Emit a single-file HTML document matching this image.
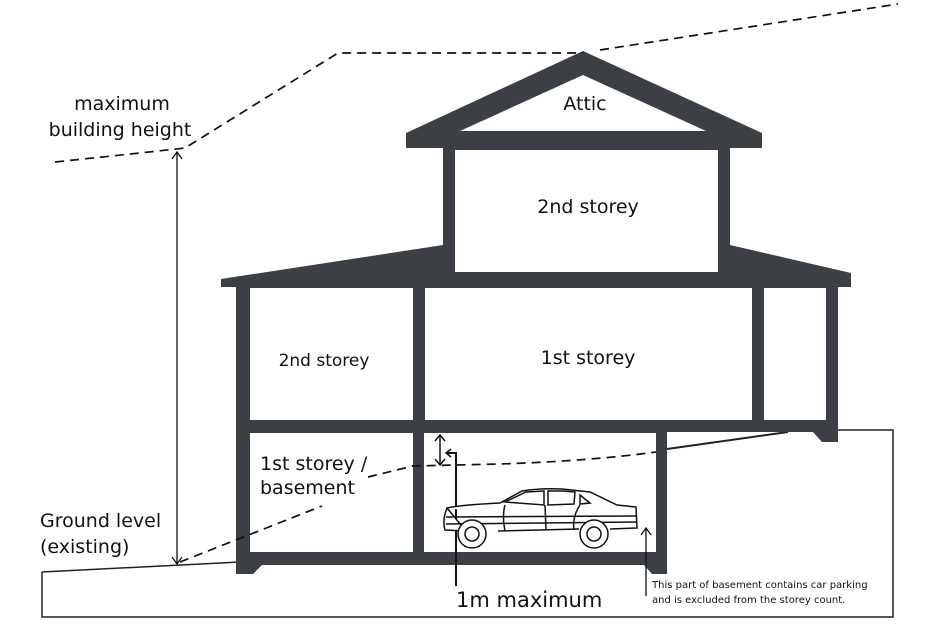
<!DOCTYPE html>
<html><head><meta charset="utf-8"><style>
html,body{margin:0;padding:0;background:#fff;width:951px;height:628px;overflow:hidden}
svg{display:block}
text{font-family:"DejaVu Sans","Liberation Sans",sans-serif;fill:#111}
</style></head><body>
<svg width="951" height="628" viewBox="0 0 951 628" xmlns="http://www.w3.org/2000/svg">
<defs>
<marker id="ah" markerWidth="10" markerHeight="10" refX="5" refY="5" orient="auto-start-reverse" markerUnits="userSpaceOnUse">
<path d="M0,0 L5,5 L0,10" fill="none" stroke="#111" stroke-width="1.3" transform="translate(5,0) rotate(0)"/>
</marker>
</defs>
<!-- ground -->
<path d="M42,572 L240,562 M42,572 L42,617 L893,617 L893,430 L830,430" fill="none" stroke="#222" stroke-width="1.5"/>
<line x1="667" y1="449" x2="788" y2="432" stroke="#222" stroke-width="2"/>
<!-- house structure -->
<path d="M583,51 L762,133 L762,148 L730,148 L730,245 L851,273 L851,287 L838,287 L838,442 L822,442 L813,432 L667,432 L667,574 L652,574 L644,565 L262,565 L253,574 L236,574 L236,287 L221,287 L221,279 L443,245 L443,148 L406,148 L406,133 Z" fill="#3c3f44"/>
<g fill="#fff">
<path d="M583,75 L706,131 L460,131 Z"/>
<rect x="455" y="150" width="263" height="122"/>
<rect x="250" y="288" width="163" height="132"/>
<rect x="425" y="288" width="327" height="132"/>
<rect x="764" y="288" width="62" height="132"/>
<rect x="250" y="433" width="163" height="119"/>
<rect x="424" y="433" width="232" height="119"/>
</g>
<!-- dashed lines -->
<g fill="none" stroke="#111" stroke-width="1.7" stroke-dasharray="9,6">
<path d="M55,162 Q150,152 185,148 L338,53 L583,53"/>
<path d="M600,50 L898,4"/>
<path d="M180,562 L322,506"/>
<path d="M368,477 L413,466 L500,464 Q590,461 656,452"/>
</g>
<!-- height arrow -->
<line x1="177" y1="153" x2="177" y2="563" stroke="#111" stroke-width="1.3"/>
<path d="M172,159 L177,152 L182,159 M172,557 L177,564 L182,557" fill="none" stroke="#111" stroke-width="1.3"/>
<!-- 1m arrows -->
<line x1="440" y1="436" x2="440" y2="464" stroke="#111" stroke-width="1.5"/>
<path d="M435,441 L440,435 L445,441 M435,459 L440,465 L445,459" fill="none" stroke="#111" stroke-width="1.5"/>
<path d="M447,453 L456,453 L456,586" fill="none" stroke="#111" stroke-width="2"/>
<path d="M451,449 L446,453 L451,457" fill="none" stroke="#111" stroke-width="1.5"/>
<line x1="646" y1="528" x2="646" y2="596" stroke="#111" stroke-width="1.3"/>
<path d="M641,535 L646,528 L651,535" fill="none" stroke="#111" stroke-width="1.3"/>
<!-- car -->
<g fill="none" stroke="#111" stroke-width="1.5">
<path d="M447,508 Q460,505 500,503 L522,491 Q540,488 562,489 L590,492 L617,505 L636,507 L637,528 L610,529 M579,529 L498,531 M466,531 L445,530 Q442,520 447,508 Z" fill="#fff"/>
<path d="M505,502 L526,492 L544,491 L544,505 Z M548,491 L563,491 L575,492 L574,504 L548,505 Z M580,495 L590,503 L580,504 Z"/>
<path d="M505,505 Q502,515 505,531 M545,505 L546,530 M580,505 Q572,517 574,530"/>
<path d="M446,517 L636,516 M446,524 L636,522"/>
<circle cx="472" cy="534" r="14" fill="#fff"/><circle cx="472" cy="534" r="7"/>
<circle cx="594" cy="534" r="14" fill="#fff"/><circle cx="594" cy="534" r="7"/>
</g>
<!-- labels -->
<g font-size="19">
<text x="122" y="110" text-anchor="middle">maximum</text>
<text x="120" y="136" text-anchor="middle">building height</text>
<text x="40" y="527">Ground level</text>
<text x="40" y="553">(existing)</text>
<text x="260" y="470">1st storey /</text>
<text x="260" y="494">basement</text>
<text x="585" y="110" text-anchor="middle">Attic</text>
<text x="588" y="213" text-anchor="middle">2nd storey</text>
<text x="588" y="364" text-anchor="middle">1st storey</text>
<text x="324" y="366" text-anchor="middle" font-size="17">2nd storey</text>
<text x="456" y="607" font-size="21">1m maximum</text>
</g>
<text x="652" y="588" font-size="10">This part of basement contains car parking</text>
<text x="652" y="603" font-size="10">and is excluded from the storey count.</text>
</svg>
</body></html>
